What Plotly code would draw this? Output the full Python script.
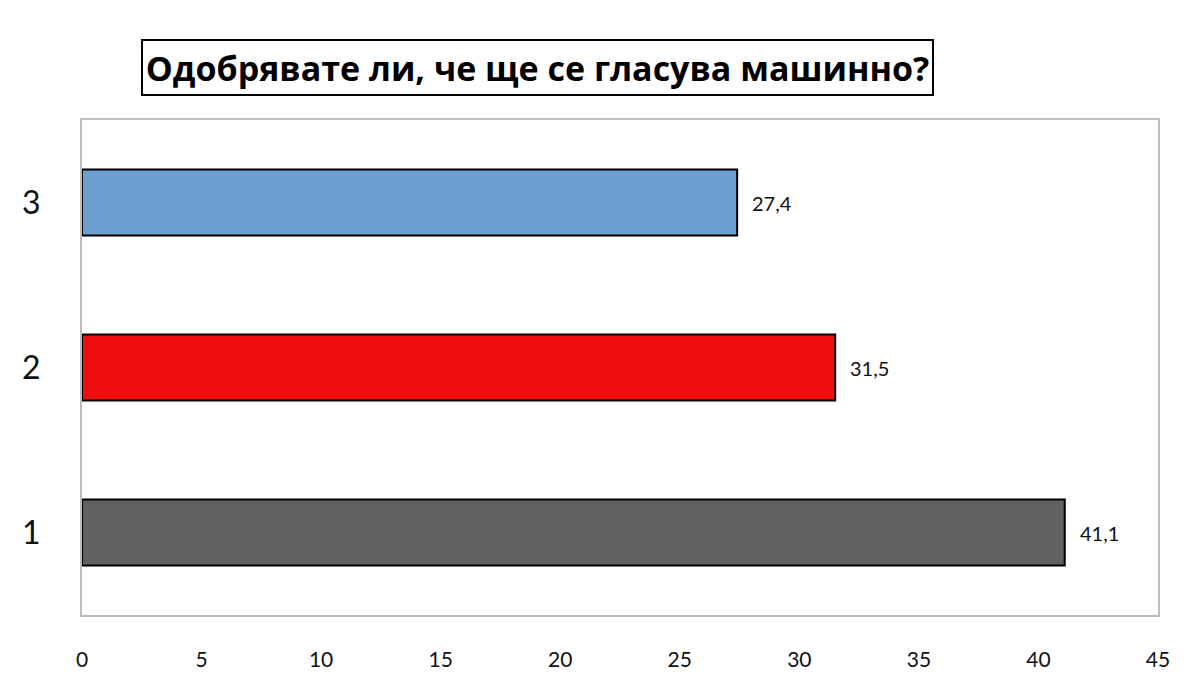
import plotly.graph_objects as go

categories = ["1", "2", "3"]
values = [41.1, 31.5, 27.4]
colors = ["#616161", "#EE0E0E", "#6E9DD0"]
x_ticks = [0, 5, 10, 15, 20, 25, 30, 35, 40, 45]
title_text = "Одобрявате ли, че ще се гласува машинно?"

fig = go.Figure()
fig.add_trace(go.Bar(
    x=values, y=categories, orientation="h",
    marker=dict(color=colors, line=dict(color="#000000", width=2)),
    width=0.4,
    hoverinfo="skip",
))

for i, v in enumerate(values):
    fig.add_annotation(
        x=v, y=i, xref="x", yref="y",
        text=f"{v:.1f}".replace(".", ","),
        showarrow=False, xanchor="left", xshift=13,
        font=dict(family="Lato", size=20, color="#111111"),
    )

L, R, T, B = 82, 42, 120, 60
pw, ph = 1200 - L - R, 675 - T - B
fig.add_annotation(
    x=(537 - L) / pw, y=(675 - 67.5 - B) / ph, xref="paper", yref="paper",
    xanchor="center", yanchor="middle",
    text="<b>" + title_text + "</b>",
    showarrow=False,
    font=dict(family="Open Sans", size=34, color="#000000"),
    bordercolor="#000000", borderwidth=2, borderpad=0,
    width=789, height=53,
    bgcolor="#FFFFFF",
)

fig.update_layout(
    width=1200, height=675,
    margin=dict(l=L, r=R, t=T, b=B),
    paper_bgcolor="#FFFFFF", plot_bgcolor="#FFFFFF",
    showlegend=False,
    xaxis=dict(
        range=[0, 45], tickvals=x_ticks, showgrid=False, zeroline=False,
        showline=True, mirror=True, linecolor="#BDBDBD", linewidth=2,
        ticks="", ticklabelstandoff=25, automargin=False,
        tickfont=dict(family="Lato", size=21, color="#111111"),
    ),
    yaxis=dict(
        type="category", range=[-0.5, 2.5], showgrid=False, zeroline=False,
        showline=True, mirror=True, linecolor="#BDBDBD", linewidth=2,
        ticks="", ticklabelstandoff=33, automargin=False,
        tickfont=dict(family="Lato", size=32, color="#111111"),
    ),
)

fig.write_html("out.html")
